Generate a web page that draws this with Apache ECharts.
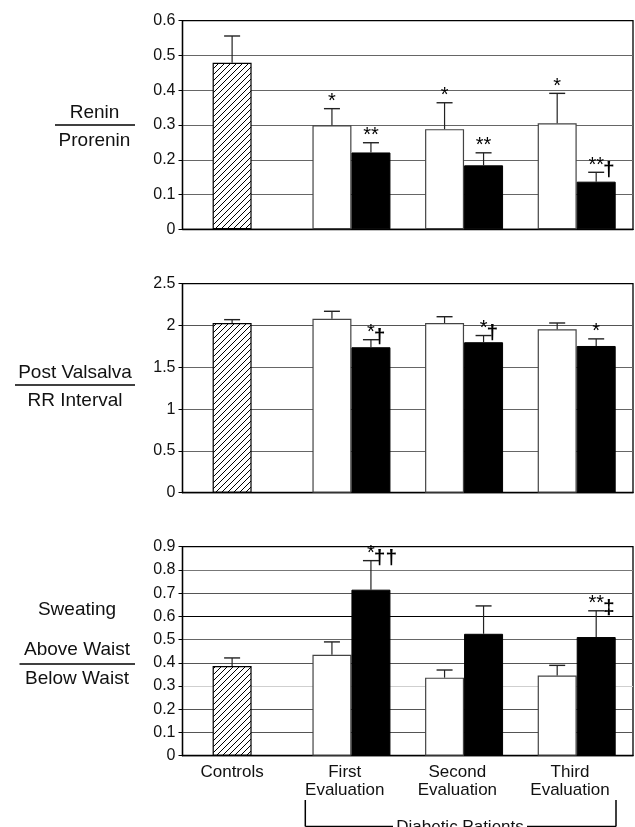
<!DOCTYPE html>
<html>
<head>
<meta charset="utf-8">
<script src="https://cdn.jsdelivr.net/npm/echarts@6/dist/echarts.min.js"></script>
<style>
    html, body { margin: 0; padding: 0; background: #fff; }
    #main { width: 635px; height: 827px; }
</style>
</head>
<body>
<div id="main"></div>
<script>
var categories = ['Controls', 'First\nEvaluation', 'Second\nEvaluation', 'Third\nEvaluation'];

// Renin / Prorenin
var reninControl = 0.479, reninControlErr = 0.077;
var reninWhite = [0.299, 0.288, 0.305];
var reninWhiteErr = [0.048, 0.076, 0.086];
var reninBlack = [0.221, 0.184, 0.137];
var reninBlackErr = [0.028, 0.036, 0.027];
var reninWhiteNotes = ['*', '*', '*'];
var reninBlackNotes = ['**', '**', '**†'];
var reninAxis = [0, 0.6, 0.1];   // min, max, interval

// Post Valsalva / RR Interval
var valsControl = 2.03, valsControlErr = 0.04;
var valsWhite = [2.08, 2.03, 1.955];
var valsWhiteErr = [0.09, 0.075, 0.075];
var valsBlack = [1.74, 1.80, 1.755];
var valsBlackErr = [0.09, 0.08, 0.085];
var valsWhiteNotes = ['', '', ''];
var valsBlackNotes = ['*†', '*†', '*'];
var valsAxis = [0, 2.5, 0.5];

// Sweating above / below waist
var sweatControl = 0.386, sweatControlErr = 0.035;
var sweatWhite = [0.435, 0.336, 0.345];
var sweatWhiteErr = [0.055, 0.033, 0.044];
var sweatBlack = [0.715, 0.525, 0.511];
var sweatBlackErr = [0.125, 0.12, 0.113];
var sweatWhiteNotes = ['', '', ''];
var sweatBlackNotes = ['*††', '', '**‡'];
var sweatAxis = [0, 0.9, 0.1];

var FONT = '"Liberation Sans", Arial, Helvetica, sans-serif';
var BAR_W = 39;

var panels = [
    {control: reninControl, controlErr: reninControlErr, white: reninWhite, whiteErr: reninWhiteErr,
     black: reninBlack, blackErr: reninBlackErr, whiteNotes: reninWhiteNotes, blackNotes: reninBlackNotes,
     axis: reninAxis, top: 20.7, height: 208.6,
     lineColors: ['#000', '#666', '#666', '#666', '#666', '#666', '#000']},
    {control: valsControl, controlErr: valsControlErr, white: valsWhite, whiteErr: valsWhiteErr,
     black: valsBlack, blackErr: valsBlackErr, whiteNotes: valsWhiteNotes, blackNotes: valsBlackNotes,
     axis: valsAxis, top: 283.7, height: 209,
     lineColors: ['#000', '#666', '#666', '#666', '#555', '#000']},
    {control: sweatControl, controlErr: sweatControlErr, white: sweatWhite, whiteErr: sweatWhiteErr,
     black: sweatBlack, blackErr: sweatBlackErr, whiteNotes: sweatWhiteNotes, blackNotes: sweatBlackNotes,
     axis: sweatAxis, top: 546.7, height: 209,
     lineColors: ['#000', '#555', '#555', '#cfcfcf', '#555', '#666', '#000', '#555', '#777', '#000']}
];

// diagonal hatch for the control bars
var hatch = document.createElement('canvas');
hatch.width = 6;
hatch.height = 6;
var hctx = hatch.getContext('2d');
hctx.fillStyle = '#fff';
hctx.fillRect(0, 0, 6, 6);
hctx.strokeStyle = '#000';
hctx.lineWidth = 1;
hctx.beginPath();
hctx.moveTo(0, 6); hctx.lineTo(6, 0);
hctx.moveTo(-1, 1); hctx.lineTo(1, -1);
hctx.moveTo(5, 7); hctx.lineTo(7, 5);
hctx.stroke();

// error bar + significance marks, side: -1 white, 1 black, 0 control
function errorBars(side, notes) {
    return function (params, api) {
        var base = api.coord([api.value(0), api.value(1)]);
        var top = api.coord([api.value(0), api.value(2)]);
        var cx = base[0] + side * BAR_W / 2;
        var children = [
            {type: 'line', shape: {x1: cx, y1: base[1], x2: cx, y2: top[1]},
             style: {stroke: '#222', lineWidth: 1.2}},
            {type: 'line', shape: {x1: cx - 8, y1: top[1], x2: cx + 8, y2: top[1]},
             style: {stroke: '#222', lineWidth: 1.4}}
        ];
        var note = notes[params.dataIndex] || '';
        if (note) {
            var stars = note.match(/^\**/)[0];
            var rest = note.slice(stars.length);
            children.push({
                type: 'text', x: cx - stars.length * 3.9, y: top[1] - 7,
                style: {text: stars, font: '20px ' + FONT, fill: '#000', align: 'left', verticalAlign: 'middle'}
            });
            if (rest) {
                children.push({
                    type: 'text', x: cx + stars.length * 3.9 - 1, y: top[1] - 13,
                    style: {text: rest, font: 'bold 21px ' + FONT, fill: '#000', align: 'left', verticalAlign: 'top'}
                });
            }
        }
        return {type: 'group', children: children};
    };
}

var grids = [], xAxes = [], yAxes = [], series = [];

panels.forEach(function (p, k) {
    var main = 2 * k, ctrl = 2 * k + 1;
    grids.push({left: 182.5, top: p.top, width: 450.5, height: p.height,
                show: true, borderColor: '#000', borderWidth: 1.3});
    grids.push({left: 175.8, top: p.top, width: 450.5, height: p.height, show: false});

    xAxes.push({gridIndex: main, type: 'category', data: categories,
                axisLine: {lineStyle: {color: '#000', width: 1.3}},
                axisTick: {show: false}, axisLabel: {show: false}, splitLine: {show: false}});
    xAxes.push({gridIndex: ctrl, type: 'category', data: categories,
                axisLine: {show: false}, axisTick: {show: false}, splitLine: {show: false},
                axisLabel: {show: k === 2, fontSize: 17, lineHeight: 18.5, color: '#111',
                            fontFamily: FONT, margin: 7, interval: 0}});

    yAxes.push({gridIndex: main, type: 'value', min: p.axis[0], max: p.axis[1], interval: p.axis[2],
                axisLine: {show: true, lineStyle: {color: '#000', width: 1.3}},
                axisTick: {show: true, length: 4, lineStyle: {color: '#000'}},
                axisLabel: {fontSize: 16, color: '#111', fontFamily: FONT, margin: 7},
                splitLine: {show: true, showMaxLine: false,
                            lineStyle: {color: p.lineColors, width: 1.2}}});
    yAxes.push({gridIndex: ctrl, type: 'value', min: p.axis[0], max: p.axis[1], show: false});

    series.push({
        type: 'bar', xAxisIndex: ctrl, yAxisIndex: ctrl, barWidth: BAR_W,
        data: [p.control, null, null, null],
        itemStyle: {color: {image: hatch, repeat: 'repeat'}, borderColor: '#000', borderWidth: 1.2}
    });
    series.push({
        type: 'bar', xAxisIndex: main, yAxisIndex: main, barWidth: BAR_W, barGap: '0%',
        data: [null].concat(p.white),
        itemStyle: {color: '#fff', borderColor: '#444', borderWidth: 1.2}
    });
    series.push({
        type: 'bar', xAxisIndex: main, yAxisIndex: main, barWidth: BAR_W, barGap: '0%',
        data: [null].concat(p.black),
        itemStyle: {color: '#000', borderColor: '#000', borderWidth: 1}
    });

    series.push({
        type: 'custom', xAxisIndex: ctrl, yAxisIndex: ctrl, z: 5, clip: false,
        renderItem: errorBars(0, ['']),
        data: [[0, p.control, p.control + p.controlErr]]
    });
    series.push({
        type: 'custom', xAxisIndex: main, yAxisIndex: main, z: 5, clip: false,
        renderItem: errorBars(-1, p.whiteNotes),
        data: p.white.map(function (v, i) { return [i + 1, v, v + p.whiteErr[i]]; })
    });
    series.push({
        type: 'custom', xAxisIndex: main, yAxisIndex: main, z: 5, clip: false,
        renderItem: errorBars(1, p.blackNotes),
        data: p.black.map(function (v, i) { return [i + 1, v, v + p.blackErr[i]]; })
    });
});

function label(text, x, y) {
    return {type: 'text', x: x, y: y,
            style: {text: text, font: '19px ' + FONT, fill: '#111', align: 'center', verticalAlign: 'middle'}};
}
function rule(x1, y1, x2, y2) {
    return {type: 'line', shape: {x1: x1, y1: y1, x2: x2, y2: y2},
            style: {stroke: '#000', lineWidth: 1.5}};
}

var chart = echarts.init(document.getElementById('main'));
chart.setOption({
    animation: false,
    backgroundColor: '#fff',
    grid: grids,
    xAxis: xAxes,
    yAxis: yAxes,
    series: series,
    graphic: [
        label('Renin', 94.5, 112.7),
        rule(55, 125, 135, 125),
        label('Prorenin', 94.5, 140.7),
        label('Post Valsalva', 75, 372.7),
        rule(15, 385, 135, 385),
        label('RR Interval', 75, 401),
        label('Sweating', 77, 610),
        label('Above Waist', 77, 650),
        rule(19.5, 664, 135, 664),
        label('Below Waist', 77, 679),
        // Diabetic Patients bracket
        rule(305.3, 800, 305.3, 826.5),
        rule(305.3, 826.5, 393, 826.5),
        {type: 'text', x: 460, y: 827,
         style: {text: 'Diabetic Patients', font: '17px ' + FONT, fill: '#111', align: 'center', verticalAlign: 'middle'}},
        rule(527, 826.5, 616, 826.5),
        rule(616, 800, 616, 826.5)
    ]
});
</script>
</body>
</html>
